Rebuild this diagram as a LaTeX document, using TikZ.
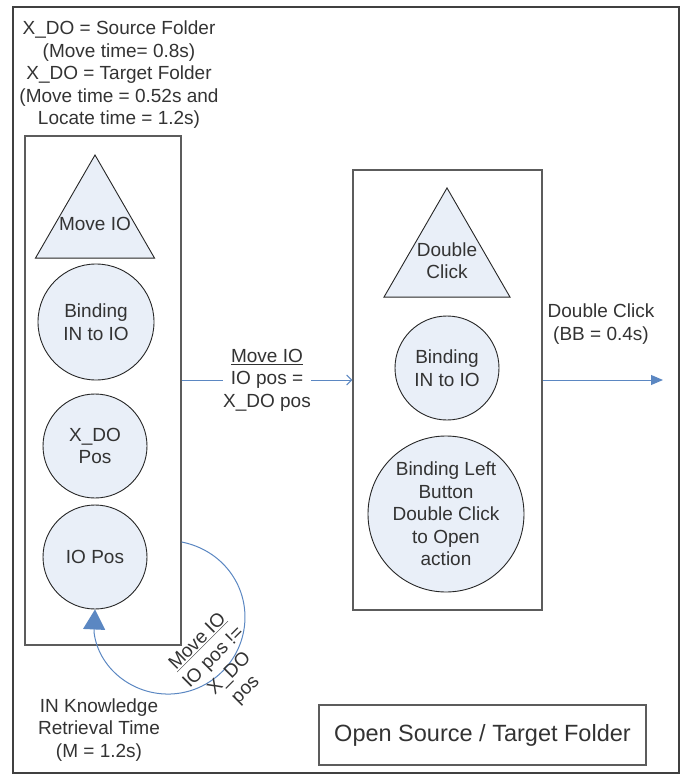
\documentclass[tikz,border=0pt]{standalone}
\usepackage{fontspec}
\setmainfont{Liberation Sans}
\usetikzlibrary{shapes.geometric,arrows.meta}
\definecolor{framegray}{HTML}{404040}
\definecolor{boxgray}{HTML}{5C5C5C}
\definecolor{shapefill}{HTML}{E9EFF8}
\definecolor{linkblue}{HTML}{5B87C2}
\definecolor{txt}{HTML}{333333}
\begin{document}
\begin{tikzpicture}[x=1pt,y=-1pt,
  lbl/.style={font=\fontsize{19}{22.5}\selectfont, text=txt, align=center, inner sep=0pt},
  group/.style={draw=boxgray, line width=1.3pt, inner sep=0pt},
  state/.style={circle, draw=black!85, fill=shapefill, line width=0.9pt, inner sep=0pt, lbl},
  trig/.style={regular polygon, regular polygon sides=3, draw=black!85, fill=shapefill, line width=0.9pt, inner sep=0pt},
  link/.style={draw=linkblue, line width=1pt}]
\useasboundingbox (0,0) rectangle (681,776);

% outer frame
\node[draw=framegray, line width=2pt, minimum width=666pt, minimum height=766pt, inner sep=0pt] (frame) at (346,390) {};

% notes on the left
\node[lbl] (notes) at (119,75) {X\_DO = Source Folder\\(Move time= 0.8s)\\X\_DO = Target Folder\\(Move time = 0.52s and\\Locate time = 1.2s)};

% left group
\node[group, minimum width=156pt, minimum height=509pt] (lbox) at (103,390.5) {};
\node[trig, minimum size=137.4pt, label={[lbl]center:Move IO}] (movetri) at (95,223.7) {};
\node[state, minimum size=116pt] (bindl) at (96,322) {Binding\\IN to IO};
\node[state, minimum size=104pt] (xdo) at (95,446) {X\_DO\\Pos};
\node[state, minimum size=104pt] (io) at (95,557) {IO Pos};

% right group
\node[group, minimum width=189pt, minimum height=440pt] (rbox) at (447.5,390) {};
\node[trig, minimum size=145.5pt, label={[lbl]center:Double\\Click}] (dbltri) at (447,260.7) {};
\node[state, minimum size=104pt] (bindr) at (447,368) {Binding\\IN to IO};
\node[state, minimum size=156pt] (bindbtn) at (446,514) {Binding Left\\Button\\Double Click\\to Open\\action};

% title
\node[group, minimum width=327pt, minimum height=60pt, font=\fontsize{23.5}{28}\selectfont, text=txt] (title) at (482.5,735) {Open Source / Target Folder};

% connectors
\coordinate (level) at (0,380);
\coordinate (outend) at (663,380);
\draw[link, -{Straight Barb[length=5pt,width=10pt]}] (lbox.east |- level) -- node[lbl, fill=white] (movelbl) {\underline{Move IO}\\IO pos =\\X\_DO pos} (rbox.west |- level);
\draw[link, -{Triangle[length=12pt,width=10pt]}] (rbox.east |- level) -- (outend);
\node[lbl] (dbllbl) at (601,324) {Double Click\\(BB = 0.4s)};

\coordinate (loopstart) at (lbox.east |- 0,542);
\draw[link, -{Triangle[length=20pt,width=22pt]}] (loopstart)
  .. controls (222,550) and (248,585) .. (244.7,623.7)
  .. controls (241.3,662.3) and (209.5,692.6) .. (170.7,694)
  .. controls (131.9,695.4) and (98,667.3) .. (94,632) -- (io.south);
\node[lbl, rotate=45] (looplbl) at (222,666) {\underline{Move IO}\\IO pos !=\\X\_DO\\pos};

\node[lbl] (retrieval) at (99,730) {IN Knowledge\\Retrieval Time\\(M = 1.2s)};
\end{tikzpicture}
\end{document}
